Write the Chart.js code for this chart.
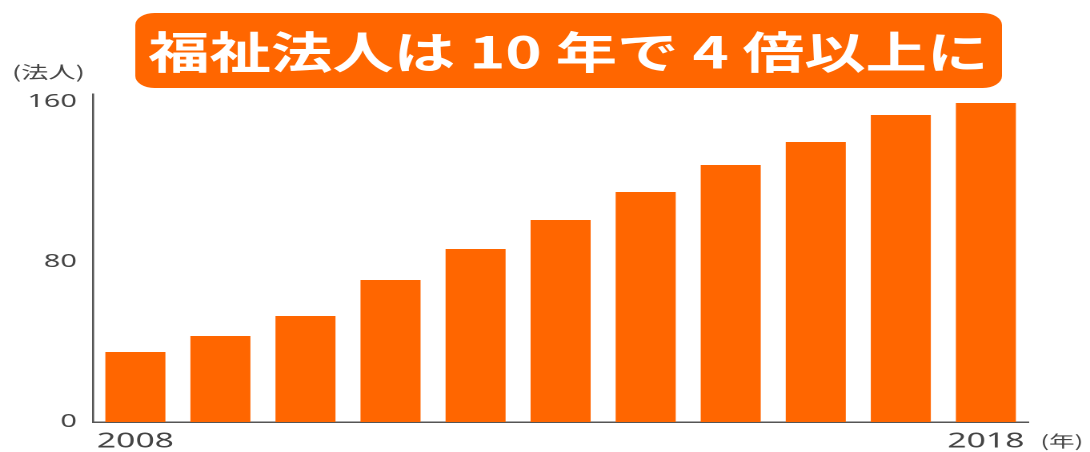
<!DOCTYPE html>
<html>
<head>
<meta charset="utf-8">
<script src="https://cdn.jsdelivr.net/npm/chart.js@4.4.1/dist/chart.umd.min.js"></script>
<style>
  html, body { margin: 0; padding: 0; background: #ffffff; overflow: hidden; }
  #wrap { width: 681px; height: 452px; transform: scaleX(1.6006); transform-origin: 0 0; }
  canvas { display: block; }
</style>
</head>
<body>
<div id="wrap"><canvas id="c" width="681" height="452"></canvas></div>
<script>
// ---- data ----
const years = ['2008','2009','2010','2011','2012','2013','2014','2015','2016','2017','2018'];
const corporations = [35, 43, 53, 71, 86.5, 101, 115, 128.5, 140, 153.5, 159.5];
const xTickLabels = ['2008', '2018'];
const yTickValues = [0, 80, 160];
const titleText = '福祉法人は 10 年で 4 倍以上に';
const yUnitText = '(法人)';
const xUnitText = '(年)';

const ORANGE = '#FF6600';
const TEXT = '#444444';
const AXIS = '#555555';

const decorations = {
  id: 'decorations',
  afterDraw(chart) {
    const ctx = chart.ctx;
    const area = chart.chartArea;
    // title box
    ctx.save();
    const bx = 84.5, by = 13, bw = 541.5, bh = 75, r = 12;
    ctx.fillStyle = ORANGE;
    ctx.beginPath();
    ctx.roundRect(bx, by, bw, bh, r);
    ctx.fill();
    ctx.font = 'bold 44px "Noto Sans CJK JP"';
    ctx.fillStyle = '#ffffff';
    ctx.textAlign = 'center';
    ctx.textBaseline = 'middle';
    const natural = ctx.measureText(titleText).width;
    const targetW = 525;
    const cx = 355;
    ctx.translate(cx, 52);
    ctx.scale(targetW / natural, 1);
    ctx.fillText(titleText, 0, 0);
    ctx.restore();

    // y unit label
    ctx.save();
    ctx.font = '17px "Noto Sans CJK JP"';
    ctx.fillStyle = TEXT;
    ctx.textAlign = 'left';
    ctx.textBaseline = 'middle';
    ctx.fillText(yUnitText, 7.5, 72);
    ctx.restore();

    // x unit label
    ctx.save();
    ctx.font = '16px "Noto Sans CJK JP"';
    ctx.fillStyle = TEXT;
    ctx.textAlign = 'left';
    ctx.textBaseline = 'middle';
    ctx.fillText(xUnitText, area.right + 7.5, 441);
    ctx.restore();
  }
};

new Chart(document.getElementById('c'), {
  type: 'bar',
  data: {
    labels: years,
    datasets: [{
      data: corporations,
      backgroundColor: ORANGE,
      borderWidth: 0,
      barPercentage: 0.706,
      categoryPercentage: 1.0
    }]
  },
  options: {
    responsive: false,
    animation: false,
    devicePixelRatio: 2,
    layout: { padding: { top: 94, right: 38.5, left: 0, bottom: 0 } },
    plugins: { legend: { display: false }, tooltip: { enabled: false }, title: { display: false } },
    scales: {
      x: {
        grid: { display: false, drawTicks: false },
        border: { display: true, color: AXIS, width: 1.5 },
        ticks: {
          autoSkip: false,
          maxRotation: 0,
          padding: 7,
          color: TEXT,
          font: { family: '"Noto Sans", sans-serif', size: 21 },
          callback(value, index) {
            const lab = years[index];
            return xTickLabels.includes(lab) ? lab : '';
          }
        },
        afterFit(scale) { scale.height = 30; }
      },
      y: {
        min: 0,
        max: 164,
        grid: { display: false, drawTicks: false },
        border: { display: true, color: AXIS, width: 1.3 },
        ticks: {
          padding: 10,
          color: TEXT,
          font: { family: '"Noto Sans", sans-serif', size: 18 }
        },
        afterBuildTicks(scale) { scale.ticks = yTickValues.map(v => ({ value: v })); },
        afterFit(scale) { scale.width = 58; }
      }
    }
  },
  plugins: [decorations]
});
</script>
</body>
</html>
